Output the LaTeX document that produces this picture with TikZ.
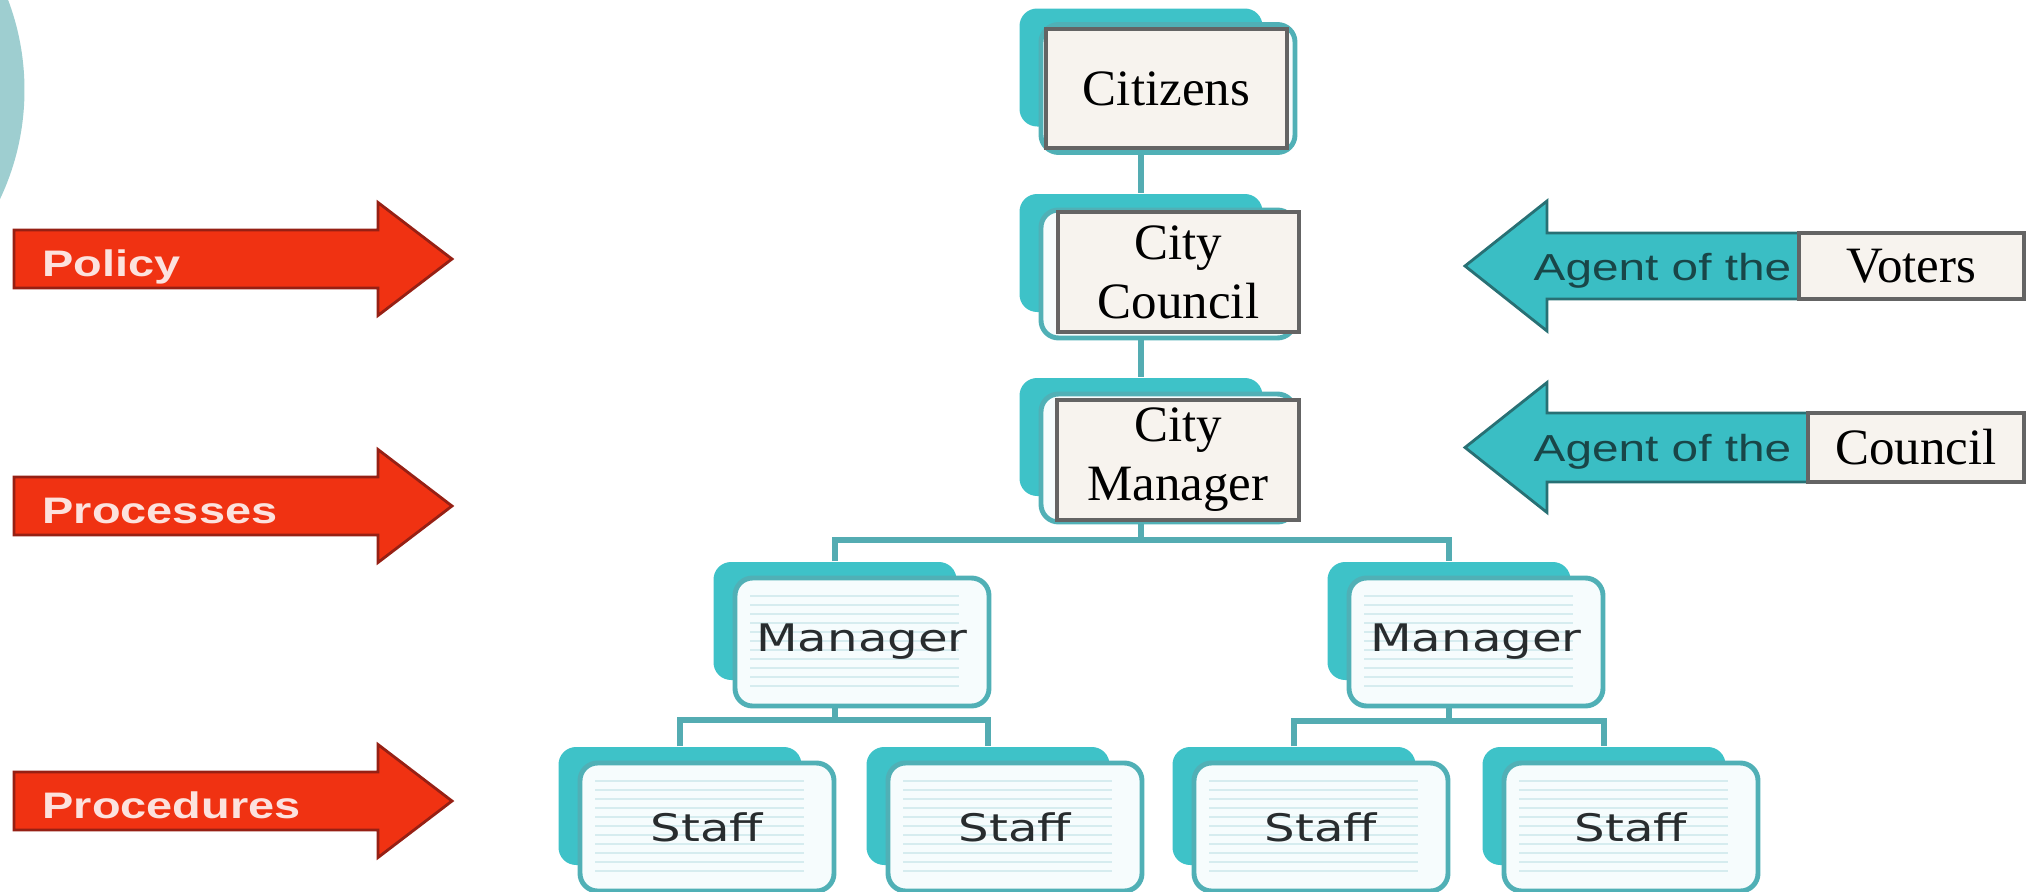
\documentclass[tikz,border=0pt]{standalone}
\usepackage{fontspec}
\setmainfont{Liberation Serif}
\newfontfamily\arrowfont[FakeStretch=1.27]{Liberation Sans}
\newfontfamily\cardfont[FakeStretch=1.27]{DejaVu Sans}
\usepackage{tikz}
\usetikzlibrary{calc}

\definecolor{chartteal}{RGB}{62,194,200}
\definecolor{cardedge}{RGB}{80,176,182}
\definecolor{cardfill}{RGB}{246,252,253}
\definecolor{cardline}{RGB}{214,236,239}
\definecolor{cardtext}{RGB}{40,44,46}
\definecolor{linkteal}{RGB}{84,172,178}
\definecolor{boxfill}{RGB}{247,243,238}
\definecolor{boxedge}{RGB}{100,100,100}
\definecolor{arrowred}{RGB}{240,50,18}
\definecolor{arrowredline}{RGB}{150,32,20}
\definecolor{redtext}{RGB}{252,226,222}
\definecolor{arrowteal}{RGB}{58,190,196}
\definecolor{arrowtealline}{RGB}{40,112,116}
\definecolor{agenttext}{RGB}{25,70,72}
\definecolor{circleteal}{RGB}{158,206,208}

\tikzset{
  backcard/.style={rectangle, rounded corners=5pt, fill=chartteal,
    minimum width=2.43cm, minimum height=1.18cm, inner sep=0pt},
  frontcard/.style={rectangle, rounded corners=5pt, draw=cardedge, line width=1.4pt,
    fill=cardfill, minimum width=2.54cm, minimum height=1.28cm, inner sep=0pt,
    font=\cardfont\fontsize{10.8}{12}\selectfont, text=cardtext,
    path picture={\foreach \k in {0.18,0.27,...,1.1}
      \draw[cardline, line width=0.5pt]
        ($(path picture bounding box.north west)+(0.15,\k)$) --
        ($(path picture bounding box.north east)+(-0.3,\k)$);}},
  labelbox/.style={rectangle, draw=boxedge, line width=1pt, fill=boxfill,
    font=\fontsize{14.5}{16.8}\selectfont, align=center, inner sep=0pt},
  link/.style={draw=linkteal, line width=1.7pt},
  redarrow/.style={fill=arrowred, draw=arrowredline, line width=0.8pt},
  tealarrow/.style={fill=arrowteal, draw=arrowtealline, line width=0.8pt},
  redlabel/.style={font=\arrowfont\bfseries\fontsize{10.5}{12}\selectfont, text=redtext, inner sep=0pt},
  agentlabel/.style={font=\arrowfont\fontsize{10.7}{12}\selectfont, text=agenttext, inner sep=0pt}
}

\begin{document}
\begin{tikzpicture}[x=1cm,y=-1cm]
\useasboundingbox (0,0) rectangle (20.37,8.92);
\begin{scope}
\clip (0,0) rectangle (20.37,8.92);
\fill[circleteal] (-2.30,0.90) circle (2.545);
\end{scope}

% red arrows on the left
\foreach \y/\name/\txt in {2.59/policy/Policy, 5.06/processes/Processes, 8.01/procedures/Procedures}{
  \draw[redarrow] (0.14,\y-0.29) -- (3.78,\y-0.29) -- (3.78,\y-0.565) -- (4.52,\y)
    -- (3.78,\y+0.565) -- (3.78,\y+0.29) -- (0.14,\y+0.29) -- cycle;
  \node[redlabel, anchor=base west] (\name) at (0.42,\y+0.175) {\txt};
}

% teal arrows on the right
\foreach \y/\h/\name in {2.66/0.33/voters, 4.475/0.345/council}{
  \draw[tealarrow] (19.40,\y-\h) -- (15.47,\y-\h) -- (15.47,\y-0.65) -- (14.65,\y)
    -- (15.47,\y+0.65) -- (15.47,\y+\h) -- (19.40,\y+\h) -- cycle;
  \node[agentlabel, anchor=base west] (\name agent) at (15.33,\y+0.14) {Agent of the};
}
\node[labelbox, minimum width=2.25cm, minimum height=0.66cm] (votersbox) at (19.115,2.66) {Voters};
\node[labelbox, minimum width=2.16cm, minimum height=0.69cm] (councilbox) at (19.16,4.475) {Council};

% top of the chart
\node[backcard] (citizensB) at (11.41,0.675) {};
\node[frontcard] (citizensF) at ($(citizensB)+(0.27,0.21)$) {};
\node[labelbox, minimum width=2.41cm, minimum height=1.19cm] (citizens) at (11.665,0.885) {Citizens};

\node[backcard] (cityCouncilB) at (11.41,2.53) {};
\node[frontcard] (cityCouncilF) at ($(cityCouncilB)+(0.27,0.21)$) {};
\node[labelbox, minimum width=2.41cm, minimum height=1.20cm] (cityCouncil) at (11.785,2.72) {City\\Council};

\node[backcard] (cityMgrB) at (11.41,4.37) {};
\node[frontcard] (cityMgrF) at ($(cityMgrB)+(0.27,0.21)$) {};
\node[labelbox, minimum width=2.42cm, minimum height=1.20cm] (cityMgr) at (11.78,4.60) {City\\Manager};

% managers
\node[backcard] (mgrLB) at (8.35,6.21) {};
\node[frontcard] (mgrL) at ($(mgrLB)+(0.27,0.21)$) {Manager};
\node[backcard] (mgrRB) at (14.49,6.21) {};
\node[frontcard] (mgrR) at ($(mgrRB)+(0.27,0.21)$) {Manager};

% staff
\foreach \n/\x in {1/6.80, 2/9.88, 3/12.94, 4/16.04}{
  \node[backcard] (staff\n B) at (\x,8.06) {};
  \node[frontcard] (staff\n) at ($(staff\n B)+(0.27,0.21)$) {Staff};
}

% connectors
\coordinate (bus) at (11.41,5.40);
\coordinate (busL) at (8.35,7.20);
\coordinate (busR) at (14.49,7.21);
\draw[link] (citizensB |- citizensF.south) -- (cityCouncilB.north);
\draw[link] (cityCouncilB |- cityCouncilF.south) -- (cityMgrB.north);
\draw[link] (cityMgrB |- cityMgrF.south) -- (bus);
\draw[link] (mgrLB.north) |- (bus) -| (mgrRB.north);
\draw[link] (mgrLB |- mgrL.south) -- (busL);
\draw[link] (staff1B.north) |- (busL) -| (staff2B.north);
\draw[link] (mgrRB |- mgrR.south) -- (busR);
\draw[link] (staff3B.north) |- (busR) -| (staff4B.north);
\end{tikzpicture}
\end{document}
